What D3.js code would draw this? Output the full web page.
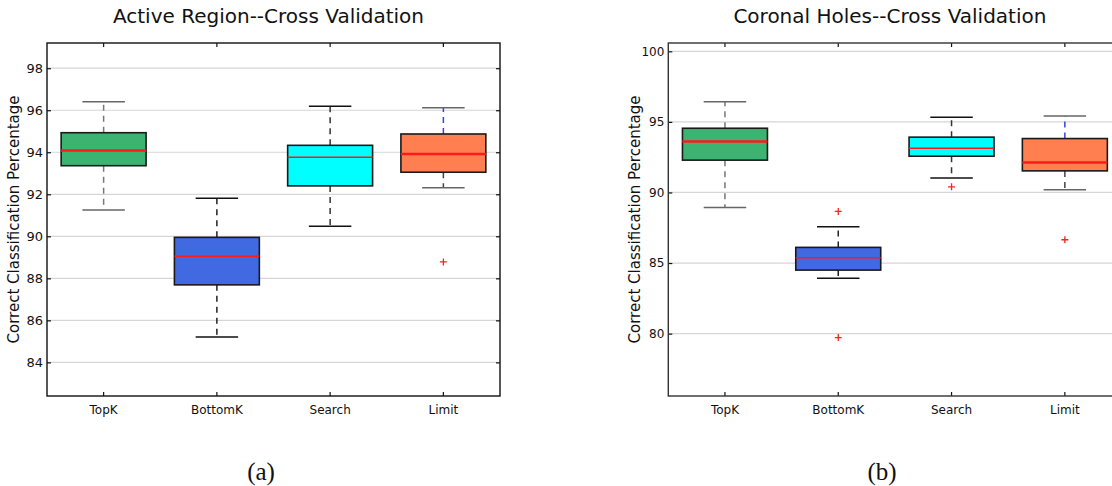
<!DOCTYPE html>
<html>
<head>
<meta charset="utf-8">
<script src="https://cdn.jsdelivr.net/npm/d3@7"></script>
<style>
  html, body { margin: 0; padding: 0; background: #fff; }
  svg { display: block; }
  text { font-family: "DejaVu Sans", sans-serif; fill: #111; }
</style>
</head>
<body>
<svg id="chart" width="1112" height="486"></svg>
<script>
// Categories shared by both panels
const categories = ["TopK", "BottomK", "Search", "Limit"];

// Active Region cross-validation box statistics (percent)
const arWhiskerLow  = [91.25, 85.21, 90.48, 92.31];
const arQ1          = [93.36, 87.69, 92.40, 93.05];
const arMedian      = [94.08, 89.05, 93.76, 93.92];
const arQ3          = [94.93, 89.95, 94.33, 94.87];
const arWhiskerHigh = [96.40, 91.81, 96.19, 96.12];
const arOutliers    = [[], [], [], [88.78]];
const arTicks       = [84, 86, 88, 90, 92, 94, 96, 98];

// Coronal Holes cross-validation box statistics (percent)
const chWhiskerLow  = [88.94, 83.92, 91.02, 90.19];
const chQ1          = [92.29, 84.50, 92.57, 91.53];
const chMedian      = [93.61, 85.38, 93.14, 92.12];
const chQ3          = [94.55, 86.11, 93.92, 93.82];
const chWhiskerHigh = [96.42, 87.57, 95.33, 95.42];
const chOutliers    = [[], [88.66, 79.72], [90.40], [86.65]];
const chTicks       = [80, 85, 90, 95, 100];

// Styling per category
const boxFill      = ["#3cb371", "#4169e1", "#00ffff", "#ff7f50"];
const medianWidth  = [2.5, 1.5, 1.5, 2.5];
const upperWhiskerColor = ["#777777", "#222222", "#333333", "#3344ee"];
const lowerWhiskerColor = ["#777777", "#222222", "#333333", "#444444"];
const capColor     = ["#666666", "#111111", "#111111", "#666666"];

const svg = d3.select("#chart");

function drawPanel(cfg) {
  const { left, right, top, bottom, domain, ticks, stats, title, caption,
          captionX, tickFont, frameColor } = cfg;

  const g = svg.append("g");

  const x = d3.scaleBand().domain(categories).range([left, right])
    .paddingInner(0).paddingOuter(0);
  const y = d3.scaleLinear().domain(domain).range([bottom, top]);
  const bw = x.bandwidth();
  const cx = c => x(c) + bw / 2;
  const boxW = bw * 0.75;
  const capW = boxW / 2;

  // horizontal grid
  g.append("g").selectAll("line").data(ticks).join("line")
    .attr("x1", left).attr("x2", right)
    .attr("y1", d => y(d)).attr("y2", d => y(d))
    .attr("stroke", "#d6d6d6").attr("stroke-width", 1.2);

  // boxes
  const rows = categories.map((c, i) => ({
    c, i,
    lo: stats.low[i], q1: stats.q1[i], med: stats.med[i],
    q3: stats.q3[i], hi: stats.high[i], out: stats.out[i]
  }));

  const bx = g.append("g").selectAll("g").data(rows).join("g");

  // whiskers
  bx.append("line")
    .attr("x1", d => cx(d.c)).attr("x2", d => cx(d.c))
    .attr("y1", d => y(d.q3)).attr("y2", d => y(d.hi))
    .attr("stroke", d => upperWhiskerColor[d.i]).attr("stroke-width", 1.5)
    .attr("stroke-dasharray", "6,5");
  bx.append("line")
    .attr("x1", d => cx(d.c)).attr("x2", d => cx(d.c))
    .attr("y1", d => y(d.q1)).attr("y2", d => y(d.lo))
    .attr("stroke", d => lowerWhiskerColor[d.i]).attr("stroke-width", 1.5)
    .attr("stroke-dasharray", "6,5");
  // caps
  bx.append("line")
    .attr("x1", d => cx(d.c) - capW / 2).attr("x2", d => cx(d.c) + capW / 2)
    .attr("y1", d => y(d.hi)).attr("y2", d => y(d.hi))
    .attr("stroke", d => capColor[d.i]).attr("stroke-width", 1.5);
  bx.append("line")
    .attr("x1", d => cx(d.c) - capW / 2).attr("x2", d => cx(d.c) + capW / 2)
    .attr("y1", d => y(d.lo)).attr("y2", d => y(d.lo))
    .attr("stroke", d => capColor[d.i]).attr("stroke-width", 1.5);
  // box body
  bx.append("rect")
    .attr("x", d => cx(d.c) - boxW / 2).attr("width", boxW)
    .attr("y", d => y(d.q3)).attr("height", d => y(d.q1) - y(d.q3))
    .attr("fill", d => boxFill[d.i])
    .attr("stroke", "#1a1a1a").attr("stroke-width", 1.6);
  // median
  bx.append("line")
    .attr("x1", d => cx(d.c) - boxW / 2).attr("x2", d => cx(d.c) + boxW / 2)
    .attr("y1", d => y(d.med)).attr("y2", d => y(d.med))
    .attr("stroke", "#ff1a1a").attr("stroke-width", d => medianWidth[d.i]);
  // outliers as red plus markers
  bx.selectAll("path.out").data(d => d.out.map(v => ({ c: d.c, v })))
    .join("path").attr("class", "out")
    .attr("d", d => {
      const px = cx(d.c), py = y(d.v), s = 3.5;
      return `M${px - s},${py}H${px + s}M${px},${py - s}V${py + s}`;
    })
    .attr("stroke", "#ff2020").attr("stroke-width", 1.3).attr("fill", "none");

  // axes: inward ticks on all four sides
  const yLeft = d3.axisLeft(y).tickValues(ticks).tickSizeInner(-4).tickSizeOuter(0).tickPadding(4);
  const yRight = d3.axisRight(y).tickValues(ticks).tickSizeInner(-4).tickSizeOuter(0).tickFormat("");
  const xBottom = d3.axisBottom(x).tickSizeInner(-4).tickSizeOuter(0).tickPadding(9);
  const xTop = d3.axisTop(x).tickSizeInner(-4).tickSizeOuter(0).tickFormat("");

  const styleAxis = sel => {
    sel.select(".domain").remove();
    sel.selectAll(".tick line").attr("stroke", "#111").attr("stroke-width", 1.2);
    sel.selectAll(".tick text").attr("font-family", "DejaVu Sans").attr("fill", "#111");
  };
  g.append("g").attr("transform", `translate(${left},0)`).call(yLeft).call(styleAxis)
    .selectAll(".tick text").attr("font-size", tickFont);
  g.append("g").attr("transform", `translate(${right},0)`).call(yRight).call(styleAxis);
  g.append("g").attr("transform", `translate(0,${bottom})`).call(xBottom).call(styleAxis)
    .selectAll(".tick text").attr("font-size", 12);
  g.append("g").attr("transform", `translate(0,${top})`).call(xTop).call(styleAxis);

  // frame
  g.append("rect")
    .attr("x", left).attr("y", top).attr("width", right - left).attr("height", bottom - top)
    .attr("fill", "none").attr("stroke", frameColor).attr("stroke-width", 1.4);

  // title
  g.append("text")
    .attr("x", (left + right) / 2 - 5).attr("y", 23)
    .attr("text-anchor", "middle").attr("font-size", 20)
    .text(title);

  // y label
  g.append("text")
    .attr("transform", `translate(${left - 28},${(top + bottom) / 2}) rotate(-90)`)
    .attr("text-anchor", "middle").attr("font-size", 15)
    .text("Correct Classification Percentage");

  // caption
  g.append("text")
    .attr("x", captionX).attr("y", 480)
    .attr("text-anchor", "middle")
    .style("font-family", "'Liberation Serif', serif")
    .attr("font-size", 25)
    .text(caption);
}

drawPanel({
  left: 47, right: 500, top: 43, bottom: 396,
  domain: [82.4, 99.2], ticks: arTicks,
  stats: { low: arWhiskerLow, q1: arQ1, med: arMedian, q3: arQ3, high: arWhiskerHigh, out: arOutliers },
  title: "Active Region--Cross Validation", caption: "(a)", captionX: 261,
  tickFont: 13, frameColor: "#111"
});

drawPanel({
  left: 668.3, right: 1121.5, top: 43, bottom: 396,
  domain: [75.58, 100.59], ticks: chTicks,
  stats: { low: chWhiskerLow, q1: chQ1, med: chMedian, q3: chQ3, high: chWhiskerHigh, out: chOutliers },
  title: "Coronal Holes--Cross Validation", caption: "(b)", captionX: 882,
  tickFont: 12, frameColor: "#333"
});
</script>
</body>
</html>
